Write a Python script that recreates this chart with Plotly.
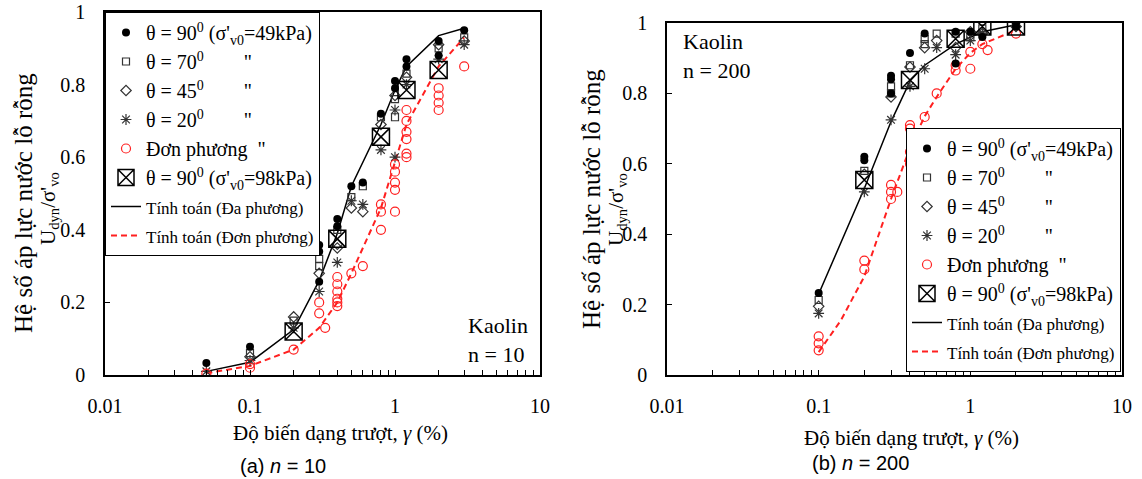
import plotly.graph_objects as go

# ---------------- (a) n = 10 ----------------
a_calc_x = [0.05, 0.1, 0.2, 0.3, 0.4, 0.5, 0.8, 1.0, 1.2, 2.0, 3.0]
a_calc_multi = [0.01, 0.035, 0.125, 0.26, 0.39, 0.52, 0.69, 0.785, 0.85, 0.935, 0.955]
a_calc_uni = [0.005, 0.025, 0.07, 0.13, 0.2, 0.28, 0.46, 0.59, 0.69, 0.85, 0.93]

a_t90_x = [0.05, 0.1, 0.3, 0.3, 0.3, 0.4, 0.4, 0.5, 0.6, 0.8, 1.0, 1.0, 1.2, 1.2, 2.0, 2.0, 3.0]
a_t90_y = [0.033, 0.078, 0.358, 0.34, 0.257, 0.43, 0.41, 0.52, 0.53, 0.72, 0.81, 0.79, 0.87, 0.85, 0.92, 0.88, 0.95]
a_t70_x = [0.1, 0.2, 0.3, 0.3, 0.4, 0.5, 0.6, 0.8, 1.0, 1.0, 1.2, 2.0, 3.0]
a_t70_y = [0.06, 0.15, 0.32, 0.3, 0.40, 0.49, 0.52, 0.71, 0.76, 0.71, 0.83, 0.90, 0.93]
a_t45_x = [0.1, 0.2, 0.3, 0.4, 0.4, 0.5, 0.6, 0.8, 1.0, 1.2, 2.0, 3.0]
a_t45_y = [0.05, 0.16, 0.28, 0.36, 0.35, 0.46, 0.45, 0.69, 0.77, 0.82, 0.91, 0.92]
a_t20_x = [0.05, 0.1, 0.2, 0.3, 0.4, 0.5, 0.6, 0.8, 1.0, 1.0, 1.2, 2.0, 3.0]
a_t20_y = [0.01, 0.04, 0.13, 0.23, 0.31, 0.48, 0.47, 0.62, 0.73, 0.60, 0.80, 0.87, 0.91]
a_uni_x = [0.05, 0.1, 0.1, 0.2, 0.3, 0.3, 0.33, 0.4, 0.4, 0.4, 0.4, 0.4, 0.4, 0.5, 0.6,
           0.8, 0.8, 0.8, 1.0, 1.0, 1.0, 1.0, 1.0, 1.2, 1.2, 1.2, 1.2, 1.2, 1.2,
           2.0, 2.0, 2.0, 2.0, 3.0]
a_uni_y = [0.004, 0.03, 0.02, 0.07, 0.2, 0.17, 0.13, 0.27, 0.25, 0.23, 0.21, 0.2, 0.19, 0.28, 0.30,
           0.47, 0.45, 0.40, 0.58, 0.56, 0.53, 0.51, 0.45, 0.73, 0.70, 0.67, 0.65, 0.61, 0.60,
           0.79, 0.77, 0.75, 0.73, 0.85]
a_t90h_x = [0.2, 0.4, 0.8, 1.2, 2.0]
a_t90h_y = [0.12, 0.375, 0.656, 0.785, 0.84]

# ---------------- (b) n = 200 ----------------
b_calc_multi_x = [0.1, 0.2, 0.3, 0.4, 0.5, 0.8, 1.2, 2.0]
b_calc_multi = [0.23, 0.53, 0.72, 0.835, 0.88, 0.94, 0.975, 0.995]
b_calc_uni_x = [0.1, 0.14, 0.2, 0.3, 0.4, 0.5, 0.6, 0.8, 1.0, 1.2, 2.0]
b_calc_uni = [0.065, 0.155, 0.28, 0.5, 0.645, 0.735, 0.79, 0.87, 0.915, 0.94, 0.98]

b_t90_x = [0.1, 0.2, 0.2, 0.3, 0.3, 0.3, 0.4, 0.5, 0.8, 0.8, 1.0, 1.2, 2.0]
b_t90_y = [0.233, 0.61, 0.62, 0.85, 0.84, 0.80, 0.915, 0.97, 0.975, 0.885, 0.975, 0.96, 0.99]
b_t70_x = [0.1, 0.2, 0.3, 0.3, 0.4, 0.5, 0.5, 0.6, 0.8, 1.0, 1.2, 2.0]
b_t70_y = [0.213, 0.58, 0.82, 0.80, 0.88, 0.955, 0.94, 0.97, 0.97, 0.96, 0.985, 0.995]
b_t45_x = [0.1, 0.2, 0.3, 0.4, 0.5, 0.6, 0.8, 1.0, 1.2, 2.0]
b_t45_y = [0.195, 0.57, 0.79, 0.875, 0.93, 0.95, 0.93, 0.975, 0.97, 0.99]
b_t20_x = [0.1, 0.2, 0.3, 0.4, 0.5, 0.6, 0.8, 1.0, 1.2, 2.0]
b_t20_y = [0.175, 0.52, 0.725, 0.82, 0.87, 0.93, 0.91, 0.95, 0.97, 0.99]
b_uni_x = [0.1, 0.1, 0.1, 0.2, 0.2, 0.3, 0.3, 0.3, 0.33, 0.4, 0.4, 0.4, 0.4, 0.5, 0.6,
           0.8, 0.8, 1.0, 1.0, 1.2, 1.3, 2.0]
b_uni_y = [0.11, 0.09, 0.07, 0.325, 0.30, 0.54, 0.52, 0.50, 0.52, 0.71, 0.70, 0.634, 0.60, 0.733, 0.80,
           0.88, 0.865, 0.918, 0.87, 0.94, 0.923, 0.97]
b_t90h_x = [0.2, 0.4, 0.8, 1.2, 2.0]
b_t90h_y = [0.554, 0.838, 0.955, 0.99, 0.99]

x_tickvals = [0.01, 0.1, 1, 10]
x_ticktext = ["0.01", "0.1", "1", "10"]
x_minor_vals = [m * d for d in (0.01, 0.1, 1) for m in range(2, 10)]

NB = "\u00a0"
names = [
    "θ = 90<sup>0</sup> (σ'<sub>v0</sub>=49kPa)",
    "θ = 70<sup>0</sup>" + NB * 8 + '"',
    "θ = 45<sup>0</sup>" + NB * 8 + '"',
    "θ = 20<sup>0</sup>" + NB * 8 + '"',
    "Đơn phương" + NB * 2 + '"',
    "θ = 90<sup>0</sup> (σ'<sub>v0</sub>=98kPa)",
    '<span style="font-size:17px">Tính toán (Đa phương)</span>',
    '<span style="font-size:17px">Tính toán (Đơn phương)</span>',
]

SERIF = "Liberation Serif, Times New Roman, serif"


def sfont(size, family=SERIF):
    return dict(family=family, size=size, color="black")


fig = go.Figure()


def add_panel(xa, ya, leg, calc_mx, calc_m, calc_ux, calc_u, sets):
    fig.add_trace(go.Scatter(x=calc_mx, y=calc_m, mode="lines", name=names[6],
                             line=dict(color="black", width=1.5), xaxis=xa, yaxis=ya,
                             legend=leg, legendrank=7))
    fig.add_trace(go.Scatter(x=calc_ux, y=calc_u, mode="lines", name=names[7],
                             line=dict(color="#ff2020", width=2, dash="6px,4px"), xaxis=xa, yaxis=ya,
                             legend=leg, legendrank=8))
    styles = [
        dict(symbol="circle", size=8, color="black"),
        dict(symbol="square-open", size=7, color="#333333", line=dict(width=1.2)),
        dict(symbol="diamond-open", size=8, color="#333333", line=dict(width=1.2)),
        dict(symbol="asterisk-open", size=9, color="#333333", line=dict(width=1.2)),
        dict(symbol="circle-open", size=9, color="#ff2020", line=dict(width=1.2)),
        dict(symbol="square-x-open", size=17, color="black", line=dict(width=1.5)),
    ]
    order = [3, 4, 2, 1, 0, 5]
    for i in order:
        sx, sy = sets[i]
        fig.add_trace(go.Scatter(x=sx, y=sy, mode="markers", name=names[i], marker=styles[i],
                                 xaxis=xa, yaxis=ya, legend=leg, legendrank=i + 1))


add_panel("x", "y", "legend", a_calc_x, a_calc_multi, a_calc_x, a_calc_uni,
          [(a_t90_x, a_t90_y), (a_t70_x, a_t70_y), (a_t45_x, a_t45_y), (a_t20_x, a_t20_y),
           (a_uni_x, a_uni_y), (a_t90h_x, a_t90h_y)])
add_panel("x2", "y2", "legend2", b_calc_multi_x, b_calc_multi, b_calc_uni_x, b_calc_uni,
          [(b_t90_x, b_t90_y), (b_t70_x, b_t70_y), (b_t45_x, b_t45_y), (b_t20_x, b_t20_y),
           (b_uni_x, b_uni_y), (b_t90h_x, b_t90h_y)])

W, H = 1142, 479


def xaxis(dom, anchor):
    return dict(domain=dom, anchor=anchor, type="log", range=[-2, 1], tickmode="array",
                tickvals=x_tickvals, ticktext=x_ticktext,
                ticks="inside", ticklen=5, tickwidth=1, tickcolor="black", ticklabelstandoff=12,
                minor=dict(tickmode="array", tickvals=x_minor_vals, ticks="inside", ticklen=5,
                           tickwidth=1, tickcolor="black", showgrid=False),
                showline=True, linecolor="black", linewidth=1.5, mirror=True, showgrid=False,
                zeroline=False, automargin=False, tickfont=sfont(20))


def yaxis(dom, anchor):
    return dict(domain=dom, range=[0, 1], dtick=0.2, anchor=anchor, ticks="inside", ticklen=5,
                tickwidth=1, tickcolor="black", ticklabelstandoff=14,
                showline=True, linecolor="black", linewidth=1.5, mirror=True, showgrid=False,
                zeroline=False, automargin=False, tickfont=sfont(20))


def legstyle(x, y):
    return dict(bgcolor="white", bordercolor="black", borderwidth=1, font=sfont(20),
                xanchor="left", yanchor="top", tracegroupgap=0, itemwidth=30, x=x, y=y)


fig.update_layout(
    width=W, height=H, margin=dict(l=0, r=0, t=0, b=0, pad=0, autoexpand=False),
    paper_bgcolor="white", plot_bgcolor="white",
    xaxis=xaxis([105 / W, 540 / W], "y"),
    yaxis=yaxis([(H - 375) / H, (H - 12) / H], "x"),
    xaxis2=xaxis([667 / W, 1122 / W], "y2"),
    yaxis2=yaxis([(H - 375) / H, (H - 23) / H], "x2"),
    legend=legstyle(105 / W, (H - 12) / H),
    legend2=legstyle(906 / W, (H - 128) / H),
    showlegend=True,
)

ytitle1 = "Hệ số áp lực nước lỗ rỗng"
ytitle2 = "U<sub>dyn</sub>/σ'<sub>vo</sub>"
xtitle = "Độ biến dạng trượt, <i>γ</i> (%)"
anns = [
    dict(text=ytitle1, x=23 / W, y=(H - 203) / H, textangle=-90, font=sfont(25)),
    dict(text=ytitle2, x=49 / W, y=(H - 208) / H, textangle=-90, font=sfont(21)),
    dict(text=ytitle1, x=591 / W, y=(H - 199) / H, textangle=-90, font=sfont(25)),
    dict(text=ytitle2, x=617 / W, y=(H - 210) / H, textangle=-90, font=sfont(21)),
    dict(text=xtitle, x=340 / W, y=(H - 433) / H, font=sfont(21)),
    dict(text=xtitle, x=911 / W, y=(H - 438) / H, font=sfont(21)),
    dict(text="(a) <i>n</i> = 10", x=283 / W, y=(H - 466) / H, font=sfont(20, "Liberation Sans")),
    dict(text="(b) <i>n</i> = 200", x=860 / W, y=(H - 463) / H, font=sfont(20, "Liberation Sans")),
]
for a in anns:
    fig.add_annotation(xref="paper", yref="paper", showarrow=False, xanchor="center",
                       yanchor="middle", **a)

fig.add_annotation(text="Kaolin<br>n = 10", xref="x domain", yref="y domain", x=0.83, y=0.096,
                   xanchor="left", yanchor="middle", align="left", showarrow=False, font=sfont(22))
fig.add_annotation(text="Kaolin<br>n = 200", xref="x2 domain", yref="y2 domain", x=0.03, y=0.905,
                   xanchor="left", yanchor="middle", align="left", showarrow=False, font=sfont(22))

fig.write_html("out.html")
